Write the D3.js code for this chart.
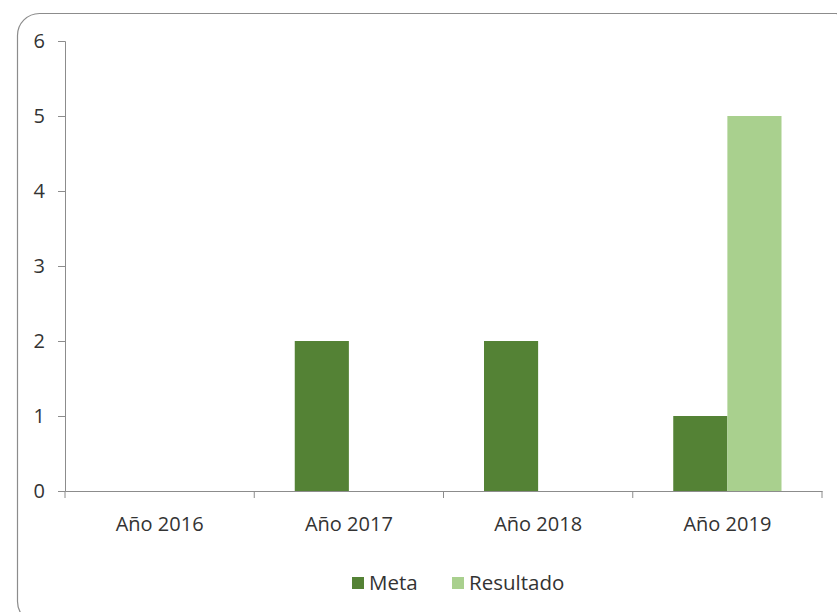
<!DOCTYPE html>
<html><head><meta charset="utf-8">
<script src="https://cdn.jsdelivr.net/npm/d3@7"></script>
<style>body{margin:0;background:#fff}svg{display:block}text{font-family:"Open Sans",sans-serif;fill:#333}</style>
</head><body><svg id="c" width="837" height="612"></svg>
<script>
const categories = ["Año 2016","Año 2017","Año 2018","Año 2019"];
const seriesNames = ["Meta","Resultado"];
const meta = [0,2,2,1];
const resultado = [0,0,0,5];
const yTicks = [0,1,2,3,4,5,6];
const colors = ["#548235","#A9D08E"];

const svg = d3.select("#c");
svg.append("rect").attr("x",17.5).attr("y",13.5).attr("width",840).attr("height",610)
  .attr("rx",22).attr("fill","#fff").attr("stroke","#8c8c8c").attr("stroke-width",1.2);

const x0 = d3.scaleBand().domain(categories).range([65,822]).paddingInner(0).paddingOuter(0);
const x1 = d3.scaleBand().domain(seriesNames).range([40.5, x0.bandwidth()-40.5]);
const y = d3.scaleLinear().domain([0,6]).range([491,41]);

const data = categories.map((c,i)=>({c, vals:[meta[i],resultado[i]]}));
const g = svg.append("g");
g.selectAll("g.cat").data(data).join("g").attr("class","cat")
  .attr("transform",d=>`translate(${x0(d.c)},0)`)
  .selectAll("rect").data(d=>d.vals.map((v,j)=>({v,s:seriesNames[j],j})).filter(e=>e.v>0))
  .join("rect").attr("x",e=>x1(e.s)).attr("width",x1.bandwidth())
  .attr("y",e=>y(e.v)).attr("height",e=>y(0)-y(e.v)).attr("fill",e=>colors[e.j]);

// y axis
const ya = svg.append("g").attr("transform","translate(65,0)")
  .call(d3.axisLeft(y).tickValues(yTicks).tickSize(7).tickPadding(13).tickFormat(d3.format("d")));
ya.select(".domain").attr("stroke","#8c8c8c");
ya.selectAll(".tick line").attr("stroke","#8c8c8c");
ya.selectAll("text").attr("font-size",20).attr("fill","#333").style("font-family","'Open Sans',sans-serif");

// x axis
const xa = svg.append("g").attr("transform","translate(0,491)")
  .call(d3.axisBottom(x0).tickSize(0).tickPadding(26));
xa.select(".domain").attr("stroke","#8c8c8c");
xa.selectAll(".tick text").attr("font-size",20).attr("fill","#333").style("font-family","'Open Sans',sans-serif");
const bounds = [...categories.map(c=>x0(c)), x0(categories[3])+x0.bandwidth()];
svg.append("g").selectAll("line").data(bounds).join("line")
  .attr("x1",d=>d).attr("x2",d=>d).attr("y1",491).attr("y2",498).attr("stroke","#8c8c8c");

// legend
const leg = svg.append("g");
const lx = [352, 452];
seriesNames.forEach((s,i)=>{
  leg.append("rect").attr("x",lx[i]).attr("y",577).attr("width",12).attr("height",12).attr("fill",colors[i]);
  leg.append("text").attr("x",lx[i]+17).attr("y",590).attr("font-size",20.5).text(s);
});
</script></body></html>
